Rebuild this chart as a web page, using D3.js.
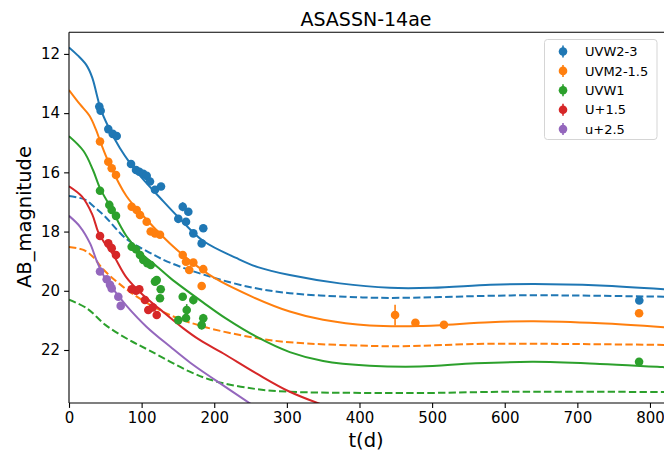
<!DOCTYPE html>
<html>
<head>
<meta charset="utf-8">
<script src="https://cdn.jsdelivr.net/npm/d3@7"></script>
<style>
  html, body { margin: 0; padding: 0; background: #fff; }
  svg { display: block; font-family: "DejaVu Sans", sans-serif; }
</style>
</head>
<body>
<svg id="chart" width="664" height="455"></svg>
<script>
// ---- photometry: days since discovery, AB magnitude (offset applied), 1-sigma error ----
const bandNames = ["UVW2-3", "UVM2-1.5", "UVW1", "U+1.5", "u+2.5"];
const bandColors = ["#1f77b4", "#ff7f0e", "#2ca02c", "#d62728", "#9467bd"];

const uvw2T   = [41.7, 43.6, 54.1, 60.2, 65.7, 85.4, 92.3, 96.8, 102.3, 107.0, 111.5, 118.4, 126.7, 150.5, 156.6, 164.3, 161.1, 171.2, 184.9, 182.7, 785.3];
const uvw2Mag = [13.78, 13.92, 14.54, 14.70, 14.77, 15.72, 15.92, 15.98, 16.05, 16.12, 16.31, 16.59, 16.48, 17.57, 17.16, 17.33, 17.67, 18.06, 17.89, 18.40, 20.33];
const uvw2Err = [0.06, 0.06, 0.06, 0.06, 0.06, 0.06, 0.06, 0.06, 0.06, 0.06, 0.07, 0.07, 0.07, 0.08, 0.15, 0.12, 0.10, 0.10, 0.08, 0.10, 0.08];

const uvm2T   = [42.7, 54.1, 58.8, 64.7, 86.3, 93.2, 97.8, 107.0, 112.5, 118.4, 125.3, 156.6, 161.1, 171.2, 165.6, 184.9, 182.7, 449.0, 477.0, 516.3, 785.0];
const uvm2Mag = [14.96, 15.64, 15.86, 16.09, 17.16, 17.27, 17.44, 17.67, 18.00, 18.06, 18.11, 18.79, 19.02, 19.05, 19.30, 19.27, 19.84, 20.82, 21.08, 21.15, 20.76];
const uvm2Err = [0.06, 0.06, 0.06, 0.06, 0.06, 0.06, 0.06, 0.06, 0.07, 0.07, 0.07, 0.08, 0.08, 0.08, 0.10, 0.08, 0.12, 0.35, 0.12, 0.08, 0.08];

const uvw1T   = [42.7, 55.5, 58.8, 64.7, 86.3, 92.3, 97.8, 102.3, 107.8, 112.5, 118.4, 120.8, 126.3, 125.3, 156.6, 162.1, 171.2, 150.5, 161.1, 184.9, 182.7, 785.0];
const uvw1Mag = [16.62, 17.10, 17.27, 17.47, 18.51, 18.60, 18.79, 18.96, 19.07, 19.13, 19.69, 19.64, 19.95, 20.25, 20.20, 20.65, 20.31, 20.99, 20.92, 20.93, 21.16, 22.40];
const uvw1Err = [0.06, 0.06, 0.06, 0.06, 0.06, 0.06, 0.06, 0.06, 0.06, 0.06, 0.08, 0.08, 0.10, 0.10, 0.10, 0.20, 0.15, 0.08, 0.12, 0.15, 0.15, 0.08];

const uT   = [42.7, 54.1, 58.8, 64.7, 86.3, 92.3, 96.8, 104.6, 109.2, 115.3, 120.8];
const uMag = [18.15, 18.40, 18.56, 18.79, 19.95, 20.00, 19.95, 20.31, 20.65, 20.56, 20.82];
const uErr = [0.06, 0.06, 0.06, 0.06, 0.07, 0.07, 0.07, 0.08, 0.08, 0.08, 0.10];

const uGroundT   = [42.7, 51.9, 56.5, 58.8, 67.9, 71.2];
const uGroundMag = [19.35, 19.61, 19.80, 19.92, 20.20, 20.51];
const uGroundErr = [0.05, 0.05, 0.05, 0.05, 0.06, 0.06];

// ---- model light curves: [t, mag] knots ----
const uvw2Model = [[0, 11.78], [12, 12.05], [24, 12.38], [32, 12.8], [38, 13.35], [43, 13.82], [54, 14.45], [70, 15.18], [85, 15.72], [100, 16.18], [125, 16.85], [150, 17.5], [185, 18.32], [231, 18.9], [260, 19.2], [304, 19.47], [373, 19.75], [442, 19.9], [500, 19.9], [580, 19.8], [640, 19.77], [731, 19.82], [820, 19.95]];
const uvm2Model = [[0, 13.22], [15, 13.7], [28, 14.08], [37, 14.55], [44, 15.02], [55, 15.68], [79, 16.8], [107, 17.6], [139, 18.4], [170, 19.05], [199, 19.55], [254, 20.22], [304, 20.7], [350, 20.98], [414, 21.17], [483, 21.19], [580, 21.06], [640, 21.03], [731, 21.1], [820, 21.23]];
const uvw1Model = [[0, 14.78], [20, 15.28], [33, 15.92], [43, 16.55], [56, 17.12], [79, 18.15], [100, 18.75], [121, 19.18], [140, 19.58], [185, 20.4], [217, 20.95], [258, 21.55], [304, 22.07], [350, 22.37], [414, 22.53], [483, 22.56], [560, 22.45], [640, 22.4], [731, 22.47], [820, 22.58]];
const uModel    = [[0, 16.47], [18, 16.82], [32, 17.42], [40, 18.0], [48, 18.35], [60, 18.75], [79, 19.55], [100, 20.1], [125, 20.62], [157, 21.26], [180, 21.66], [212, 22.11], [258, 22.79], [304, 23.41], [360, 23.95]];
const uGroundModel = [[0, 17.47], [15, 17.83], [29, 18.4], [38, 18.98], [48, 19.5], [60, 19.92], [79, 20.5], [107, 21.22], [140, 21.9], [167, 22.43], [201, 23.01], [255, 23.9]];

const uvw2Alt = [[0, 16.8], [22, 16.92], [34, 17.15], [48, 17.45], [79, 18.25], [110, 18.7], [139, 19.05], [194, 19.52], [254, 19.9], [304, 20.08], [380, 20.2], [442, 20.24], [580, 20.17], [640, 20.15], [820, 20.2]];
const uvm2Alt = [[0, 18.52], [20, 18.62], [34, 18.88], [48, 19.3], [79, 19.95], [110, 20.45], [139, 20.82], [185, 21.21], [254, 21.58], [304, 21.74], [414, 21.86], [460, 21.87], [580, 21.79], [820, 21.83]];
const uvw1Alt = [[0, 20.3], [25, 20.6], [50, 21.15], [80, 21.62], [111, 22.02], [167, 22.74], [201, 23.05], [258, 23.32], [304, 23.41], [414, 23.45], [500, 23.45], [604, 23.41], [820, 23.42]];

const xTicks = [0, 100, 200, 300, 400, 500, 600, 700, 800];
const yTicks = [12, 14, 16, 18, 20, 22];

// ---- layout ----
const svg = d3.select("#chart");
const plotLeft = 69, plotRight = 664.5, plotTop = 32.3, plotBottom = 403;

const x = d3.scaleLinear().domain([0, 820]).range([plotLeft, plotRight]);
const y = d3.scaleLinear().domain([11.27, 23.79]).range([plotTop, plotBottom]);

svg.append("defs").append("clipPath").attr("id", "plot-clip")
  .append("rect").attr("x", plotLeft).attr("y", plotTop)
  .attr("width", plotRight - plotLeft + 2).attr("height", plotBottom - plotTop);

const plot = svg.append("g").attr("clip-path", "url(#plot-clip)");

const line = d3.line()
  .x(d => x(d[0]))
  .y(d => y(d[1]))
  .curve(d3.curveCatmullRom.alpha(0.5));

const solidModels = [uvw2Model, uvm2Model, uvw1Model, uModel, uGroundModel];
const dashedModels = [uvw2Alt, uvm2Alt, uvw1Alt];

dashedModels.forEach((m, i) => {
  plot.append("path").datum(m)
    .attr("d", line).attr("fill", "none")
    .attr("stroke", bandColors[i]).attr("stroke-width", 2)
    .attr("stroke-dasharray", "7.4,3.2");
});
solidModels.forEach((m, i) => {
  plot.append("path").datum(m)
    .attr("d", line).attr("fill", "none")
    .attr("stroke", bandColors[i]).attr("stroke-width", 2);
});

// photometric points with error bars
const bands = [
  [uvw2T, uvw2Mag, uvw2Err],
  [uvm2T, uvm2Mag, uvm2Err],
  [uvw1T, uvw1Mag, uvw1Err],
  [uT, uMag, uErr],
  [uGroundT, uGroundMag, uGroundErr]
];

bands.forEach(([ts, ms, es], i) => {
  const pts = ts.map((t, k) => ({ t, m: ms[k], e: es[k] }));
  const g = plot.append("g");
  g.selectAll("line").data(pts).join("line")
    .attr("x1", d => x(d.t)).attr("x2", d => x(d.t))
    .attr("y1", d => y(d.m - d.e)).attr("y2", d => y(d.m + d.e))
    .attr("stroke", bandColors[i]).attr("stroke-width", 1.6);
  g.selectAll("circle").data(pts).join("circle")
    .attr("cx", d => x(d.t)).attr("cy", d => y(d.m))
    .attr("r", 4.3).attr("fill", bandColors[i]);
});

// axes
const xAxis = d3.axisBottom(x).tickValues(xTicks).tickSize(4.9).tickPadding(4);
const yAxis = d3.axisLeft(y).tickValues(yTicks).tickSize(4.9).tickPadding(4);

const gx = svg.append("g").attr("transform", `translate(0,${plotBottom})`).call(xAxis);
const gy = svg.append("g").attr("transform", `translate(${plotLeft},0)`).call(yAxis);
[gx, gy].forEach(g => {
  g.select(".domain").remove();
  g.selectAll(".tick line").attr("stroke", "#000").attr("stroke-width", 1.1);
  g.selectAll(".tick text").attr("fill", "#000").style("font-size", "15px")
    .style("font-family", "DejaVu Sans, sans-serif");
});

// spines: left, bottom, top
svg.append("line").attr("x1", plotLeft).attr("x2", plotLeft).attr("y1", plotTop).attr("y2", plotBottom)
  .attr("stroke", "#000").attr("stroke-width", 1.1);
svg.append("line").attr("x1", plotLeft).attr("x2", 664).attr("y1", plotBottom).attr("y2", plotBottom)
  .attr("stroke", "#000").attr("stroke-width", 1.1);
svg.append("line").attr("x1", plotLeft).attr("x2", 664).attr("y1", plotTop).attr("y2", plotTop)
  .attr("stroke", "#000").attr("stroke-width", 1.1);

// titles
svg.append("text").attr("x", 366).attr("y", 26).attr("text-anchor", "middle")
  .style("font-size", "19px").text("ASASSN-14ae");
svg.append("text").attr("x", 366).attr("y", 447).attr("text-anchor", "middle")
  .style("font-size", "19.5px").text("t(d)");
svg.append("text").attr("transform", "translate(31,217) rotate(-90)")
  .attr("text-anchor", "middle").style("font-size", "19.5px").text("AB_magnitude");

// legend
const legend = svg.append("g").attr("transform", "translate(544.5,39.5)");
legend.append("rect").attr("width", 112.5).attr("height", 100)
  .attr("rx", 3).attr("fill", "#fff").attr("fill-opacity", 0.8)
  .attr("stroke", "#d5d5d5").attr("stroke-width", 1);
bandNames.forEach((name, i) => {
  const row = legend.append("g").attr("transform", `translate(0,${12 + i * 19.4})`);
  row.append("line").attr("x1", 18.5).attr("x2", 18.5).attr("y1", -6).attr("y2", 6)
    .attr("stroke", bandColors[i]).attr("stroke-width", 1.6);
  row.append("circle").attr("cx", 18.5).attr("cy", 0).attr("r", 4.3).attr("fill", bandColors[i]);
  row.append("text").attr("x", 40.5).attr("y", 4.6).style("font-size", "13px").text(name);
});
</script>
</body>
</html>
